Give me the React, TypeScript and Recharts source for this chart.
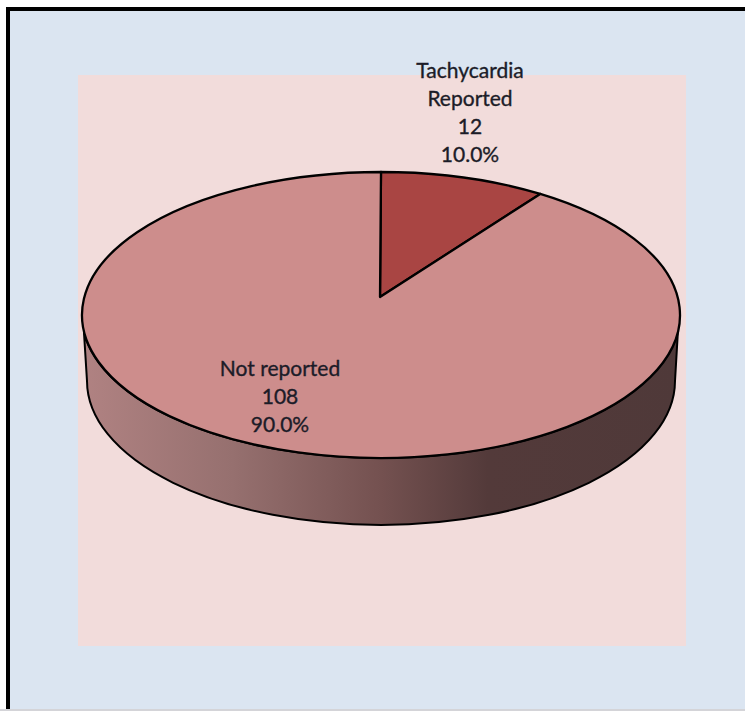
import React from 'react';
import { PieChart, Pie, Cell } from 'recharts';

// Values
const categories = ['Tachycardia\nReported', 'Not reported'];
const counts = [12, 108];
const sliceColors = ['#a94543', '#cd8d8c'];

const chartData = categories.map((name, i) => ({ name, value: counts[i] }));
const total = counts.reduce((a, b) => a + b, 0);

// Pie sits on a tilted ellipse, with the apex pulled up like the 3-D original
const RX = 299;
const RY = 143;
const APEX_LIFT = 18;
const LABEL_FONT = 'Lato, "Open Sans", sans-serif';

const rad = (d: number) => (d * Math.PI) / 180;
// perspective makes the on-screen sweep a bit narrower than the true angle near the top
const warp = (t: number) => t - 6.5 * Math.sin(rad(t));

const onEllipse = (cx: number, cy: number, angle: number) => {
  const t = warp(90 - angle);
  return [cx + RX * Math.sin(rad(t)), cy - RY * Math.cos(rad(t))];
};

const Slice3D = (props: any) => {
  const { cx, cy, startAngle, endAngle, fill } = props;
  const [x0, y0] = onEllipse(cx, cy, startAngle);
  const [x1, y1] = onEllipse(cx, cy, endAngle);
  const sweep = Math.abs(startAngle - endAngle);
  const ax = cx - 1;
  const ay = cy - APEX_LIFT;
  const top = `M${ax},${ay} L${x0},${y0} A${RX},${RY} 0 ${sweep > 180 ? 1 : 0} 1 ${x1},${y1} Z`;
  const wall = `M84,333 A${RX},${RY} 0 0 0 678,330 L675,381 A294,144 0 0 1 87,381 Z`;
  return (
    <g>
      {sweep > 180 && (
        <>
          <defs>
            <linearGradient id="wallShade" gradientUnits="userSpaceOnUse" x1="84" y1="0" x2="678" y2="0">
              <stop offset="0" stopColor="#b08282" />
              <stop offset="0.25" stopColor="#96706f" />
              <stop offset="0.5" stopColor="#745150" />
              <stop offset="0.68" stopColor="#533a3a" />
              <stop offset="1" stopColor="#4f3939" />
            </linearGradient>
          </defs>
          <path d={wall} fill="url(#wallShade)" stroke="#000" strokeWidth={2} strokeLinejoin="round" />
        </>
      )}
      <path d={top} fill={fill} stroke="#000" strokeWidth={2.3} strokeLinejoin="round" />
    </g>
  );
};

const labelSpots = [
  { x: 470, y: 69 },
  { x: 280, y: 367 },
];

const SliceLabel = (props: any) => {
  const { index, name, value } = props;
  const spot = labelSpots[index];
  const lines = [...String(name).split('\n'), String(value), `${((value / total) * 100).toFixed(1)}%`];
  return (
    <text
      x={spot.x}
      y={spot.y}
      textAnchor="middle"
      fontFamily={LABEL_FONT}
      fontSize={21}
      fill="#1c1c28"
      stroke="#1c1c28"
      strokeWidth={0.35}
    >
      {lines.map((line, i) => (
        <tspan key={i} x={spot.x} y={spot.y + i * 28.3} dominantBaseline="central">
          {line}
        </tspan>
      ))}
    </text>
  );
};

export default function App() {
  return (
    <div style={{ position: 'absolute', left: 0, top: 0, width: 745, height: 711, background: '#fff', overflow: 'hidden' }}>
      <div
        style={{
          position: 'absolute',
          left: 6,
          top: 7,
          width: 745,
          height: 702,
          background: '#dbe5f1',
          borderLeft: '4px solid #000',
          borderTop: '4px solid #000',
          boxSizing: 'border-box',
        }}
      />
      <div style={{ position: 'absolute', left: 0, top: 709, width: 745, height: 2, background: '#d4d4d8' }} />
      <div style={{ position: 'absolute', left: 78, top: 75, width: 608, height: 571, background: '#f2dcdb' }} />
      <div style={{ position: 'absolute', left: 0, top: 0 }}>
        <PieChart width={745} height={711} margin={{ top: 0, right: 0, bottom: 0, left: 0 }}>
          <Pie
            data={chartData}
            dataKey="value"
            nameKey="name"
            cx={381}
            cy={315}
            outerRadius={RX}
            startAngle={90}
            endAngle={-270}
            stroke="none"
            shape={Slice3D}
            label={SliceLabel}
            labelLine={false}
            isAnimationActive={false}
          >
            {chartData.map((_, i) => (
              <Cell key={`cell-${i}`} fill={sliceColors[i]} />
            ))}
          </Pie>
        </PieChart>
      </div>
    </div>
  );
}
